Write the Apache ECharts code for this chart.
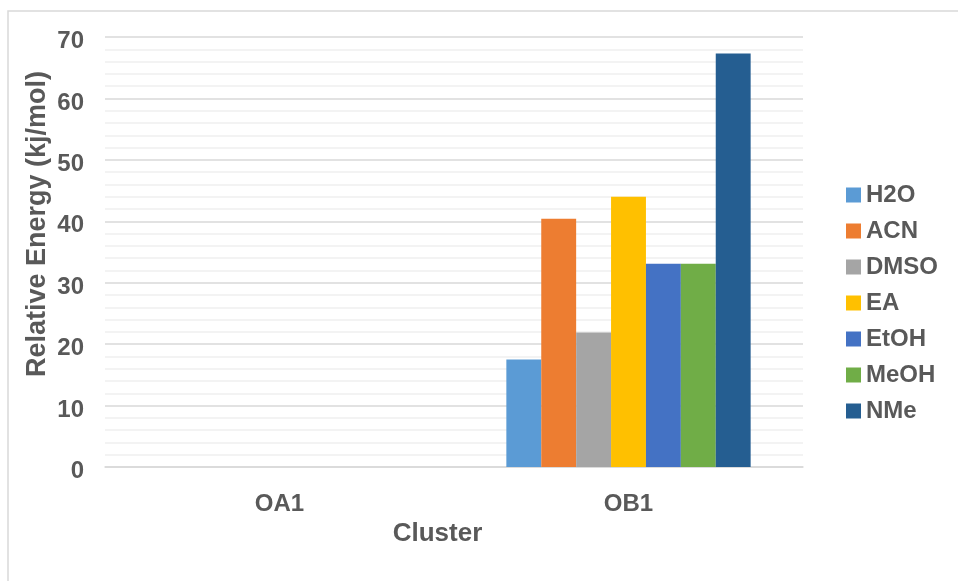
<!DOCTYPE html>
<html>
<head>
<meta charset="utf-8">
<script src="https://cdn.jsdelivr.net/npm/echarts@6/dist/echarts.min.js"></script>
<style>
  html, body { margin: 0; padding: 0; background: #ffffff; }
  #chart { width: 958px; height: 581px; }
</style>
</head>
<body>
<div id="chart"></div>
<script>
// Clusters on the category axis
const clusters = ['OA1', 'OB1'];

// Relative energy (kJ/mol) per solvent, one value per cluster
const solventNames = ['H2O', 'ACN', 'DMSO', 'EA', 'EtOH', 'MeOH', 'NMe'];
const h2o  = [0, 17.5];
const acn  = [0, 40.4];
const dmso = [0, 21.9];
const ea   = [0, 44.0];
const etoh = [0, 33.1];
const meoh = [0, 33.1];
const nme  = [0, 67.3];

const solventValues = [h2o, acn, dmso, ea, etoh, meoh, nme];
const solventColors = ['#5B9BD5', '#ED7D31', '#A5A5A5', '#FFC000', '#4472C4', '#70AD47', '#255E91'];

const textColor = '#595959';
const fontFamily = '"Liberation Sans", Arial, sans-serif';

const chart = echarts.init(document.getElementById('chart'), null, { renderer: 'canvas' });

chart.setOption({
  animation: false,
  backgroundColor: '#ffffff',
  textStyle: { fontFamily: fontFamily, color: textColor },
  graphic: [{
    type: 'rect',
    shape: { x: 8, y: 11, width: 960, height: 600 },
    style: { fill: 'none', stroke: '#d9d9d9', lineWidth: 1.5 },
    silent: true,
    z: -1
  }],
  grid: { left: 105, right: 155, top: 37, bottom: 114, containLabel: false },
  legend: {
    orient: 'vertical',
    left: 841,
    top: 178,
    itemWidth: 15,
    itemHeight: 15,
    itemGap: 12,
    icon: 'rect',
    selectedMode: false,
    textStyle: { color: textColor, fontSize: 24, fontWeight: 'bold', fontFamily: fontFamily },
    data: solventNames
  },
  xAxis: {
    type: 'category',
    data: clusters,
    name: 'Cluster',
    nameLocation: 'middle',
    nameGap: 52,
    nameTextStyle: { color: textColor, fontSize: 26, fontWeight: 'bold', fontFamily: fontFamily, padding: [0, 33, 0, 0] },
    axisLine: { lineStyle: { color: '#d9d9d9', width: 1.5 } },
    axisTick: { show: false },
    axisLabel: { color: textColor, fontSize: 24, fontWeight: 'bold', fontFamily: fontFamily, margin: 25 }
  },
  yAxis: {
    type: 'value',
    min: 0,
    max: 70,
    interval: 10,
    name: 'Relative Energy (kj/mol)',
    nameLocation: 'middle',
    nameGap: 54,
    nameMoveOverlap: false,
    nameTextStyle: { color: textColor, fontSize: 27, fontWeight: 'bold', fontFamily: fontFamily, padding: [0, 0, 0, 56] },
    axisLine: { show: false },
    axisTick: { show: false },
    axisLabel: {
      color: textColor, fontSize: 24, fontWeight: 'bold', fontFamily: fontFamily, margin: 21,
      formatter: '{t|{value}}',
      rich: { t: { color: textColor, fontSize: 24, fontWeight: 'bold', fontFamily: fontFamily, padding: [9, 0, 0, 0] } }
    },
    splitLine: { show: true, lineStyle: { color: '#d9d9d9', width: 1.5 } },
    minorTick: { show: false, splitNumber: 5 },
    minorSplitLine: { show: true, lineStyle: { color: '#f0f0f0', width: 1.5 } }
  },
  series: solventNames.map((name, i) => ({
    name: name,
    type: 'bar',
    data: solventValues[i],
    barGap: '0%',
    barCategoryGap: '30%',
    itemStyle: { color: solventColors[i] }
  }))
});
</script>
</body>
</html>
